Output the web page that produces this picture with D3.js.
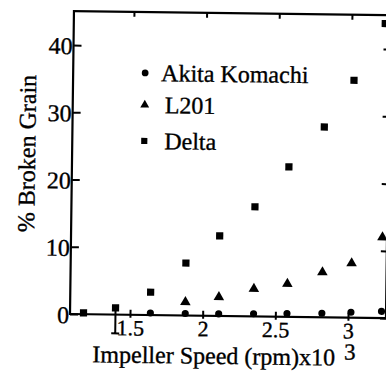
<!DOCTYPE html>
<html>
<head>
<meta charset="utf-8">
<script src="https://cdn.jsdelivr.net/npm/d3@7"></script>
<style>
  body { margin: 0; background: #fff; }
  text { font-family: "Liberation Serif", "Times New Roman", serif; fill: #000; stroke: #000; stroke-width: 0.35; }
</style>
</head>
<body>
<script>
// impeller speed (x1000 rpm)
let speeds = [1.18, 1.40, 1.64, 1.88, 2.11, 2.35, 2.58, 2.82, 3.02, 3.23]

// % broken grain per variety (null = not measured / hidden)
let akita = [null, null, 0.3, 0.3, 0.3, 0.4, 0.5, 0.6, 0.8, 1.0]
let l201  = [null, null, null, 2.0, 2.8, 4.1, 4.9, 6.7, 8.1, 12.0]
let delta = [0.2, 1.0, 3.4, 7.8, 11.9, 16.3, 22.3, 28.3, 35.3, 43.8]
let deltaErrLow = [0, 3.8, 0, 0, 0, 0, 0, 0, 0, 0]

let xTicks = [1.5, 2, 2.5, 3]
let xTickLabels = ['1.5', '2', '2.5', '3']
let yTicks = [0, 10, 20, 30, 40]
let seriesNames = ['Akita Komachi', 'L201', 'Delta']

let width = 386, height = 371

let x = d3.scaleLinear().domain([1.5, 3]).range([130, 348])
let y = d3.scaleLinear().domain([0, 40]).range([314, 45])

let xMin = x.invert(70), xMax = x.invert(386)
let yMax = y.invert(11)

let svg = d3.select('body')
    .append('svg')
    .attr('width', width)
    .attr('height', height)

// the scan is tilted a little, so the whole chart is too
let g = svg.append('g')
    .attr('transform', 'rotate(0.75,' + x(xMin) + ',' + y(0) + ')')

// frame
g.append('rect')
    .attr('x', x(xMin))
    .attr('y', y(yMax))
    .attr('width', x(xMax) - x(xMin))
    .attr('height', y(0) - y(yMax))
    .attr('fill', 'none')
    .attr('stroke', '#000')
    .attr('stroke-width', 2.2)

let yAxis = g.append('g')
    .attr('transform', 'translate(' + x(xMin) + ',0)')
    .call(d3.axisLeft(y).tickValues(yTicks).tickSize(-8).tickPadding(1))
yAxis.select('.domain').remove()
yAxis.selectAll('line').attr('stroke-width', 2)
yAxis.selectAll('text').attr('font-size', 24).attr('dy', '0.36em')

let yAxisR = g.append('g')
    .attr('transform', 'translate(' + x(xMax) + ',0)')
    .call(d3.axisRight(y).tickValues(yTicks).tickSize(-6).tickFormat(''))
yAxisR.select('.domain').remove()
yAxisR.selectAll('line').attr('stroke-width', 2)

let xAxis = g.append('g')
    .attr('transform', 'translate(0,' + y(0) + ')')
    .call(d3.axisBottom(x).tickValues(xTicks).tickSize(-5).tickPadding(5)
        .tickFormat((d, i) => xTickLabels[i]))
xAxis.select('.domain').remove()
xAxis.selectAll('line').attr('stroke-width', 2).attr('y2', -5).attr('y1', 3)
xAxis.selectAll('text').attr('font-size', 22)

let xAxisT = g.append('g')
    .attr('transform', 'translate(0,' + y(yMax) + ')')
    .call(d3.axisTop(x).tickValues(xTicks).tickSize(-5).tickFormat(''))
xAxisT.select('.domain').remove()
xAxisT.selectAll('line').attr('stroke-width', 2)

// error bar
let errPts = speeds.map((s, i) => ({ s, v: delta[i], e: deltaErrLow[i] })).filter(d => d.e > 0)
g.selectAll('.err')
    .data(errPts)
    .enter()
    .append('path')
    .attr('d', d => 'M' + x(d.s) + ',' + y(d.v) + 'V' + y(d.v - d.e) +
        'M' + (x(d.s) - 4) + ',' + y(d.v - d.e) + 'H' + (x(d.s) + 4))
    .attr('stroke', '#000')
    .attr('stroke-width', 2)
    .attr('fill', 'none')

let series = [
    { vals: akita, sym: d3.symbolCircle, size: 40 },
    { vals: l201, sym: d3.symbolTriangle, size: 48 },
    { vals: delta, sym: d3.symbolSquare, size: 52 }
]

series.forEach(s => {
    let pts = speeds.map((sp, i) => ({ sp, v: s.vals[i] })).filter(d => d.v != null)
    g.selectAll(null)
        .data(pts)
        .enter()
        .append('path')
        .attr('d', d3.symbol().type(s.sym).size(s.size))
        .attr('transform', d => 'translate(' + x(d.sp) + ',' + y(d.v) + ')')
        .attr('fill', '#000')
})

// legend
let legendY = [72, 104, 140]
let legendTextX = [158, 162, 162]
let legendSizes = [36, 34, 38]
let legend = g.selectAll('.legend')
    .data(seriesNames)
    .enter()
    .append('g')
legend.append('path')
    .attr('d', (d, i) => d3.symbol().type(series[i].sym).size(legendSizes[i])())
    .attr('transform', (d, i) => 'translate(142,' + legendY[i] + ')')
    .attr('fill', '#000')
legend.append('text')
    .attr('x', (d, i) => legendTextX[i])
    .attr('y', (d, i) => legendY[i] + 8)
    .attr('font-size', 24)
    .text(d => d)

// axis titles
let xTitle = g.append('text')
    .attr('x', 93)
    .attr('y', 362)
    .attr('font-size', 24)
    .text('Impeller Speed (rpm)x10')
let titleLen = xTitle.node().getComputedTextLength()
g.append('text')
    .attr('x', 93 + titleLen + 9)
    .attr('y', 356)
    .attr('font-size', 23)
    .text('3')

g.append('text')
    .attr('transform', 'translate(33,154) rotate(-90)')
    .attr('text-anchor', 'middle')
    .attr('font-size', 24)
    .text('% Broken Grain')
</script>
</body>
</html>
